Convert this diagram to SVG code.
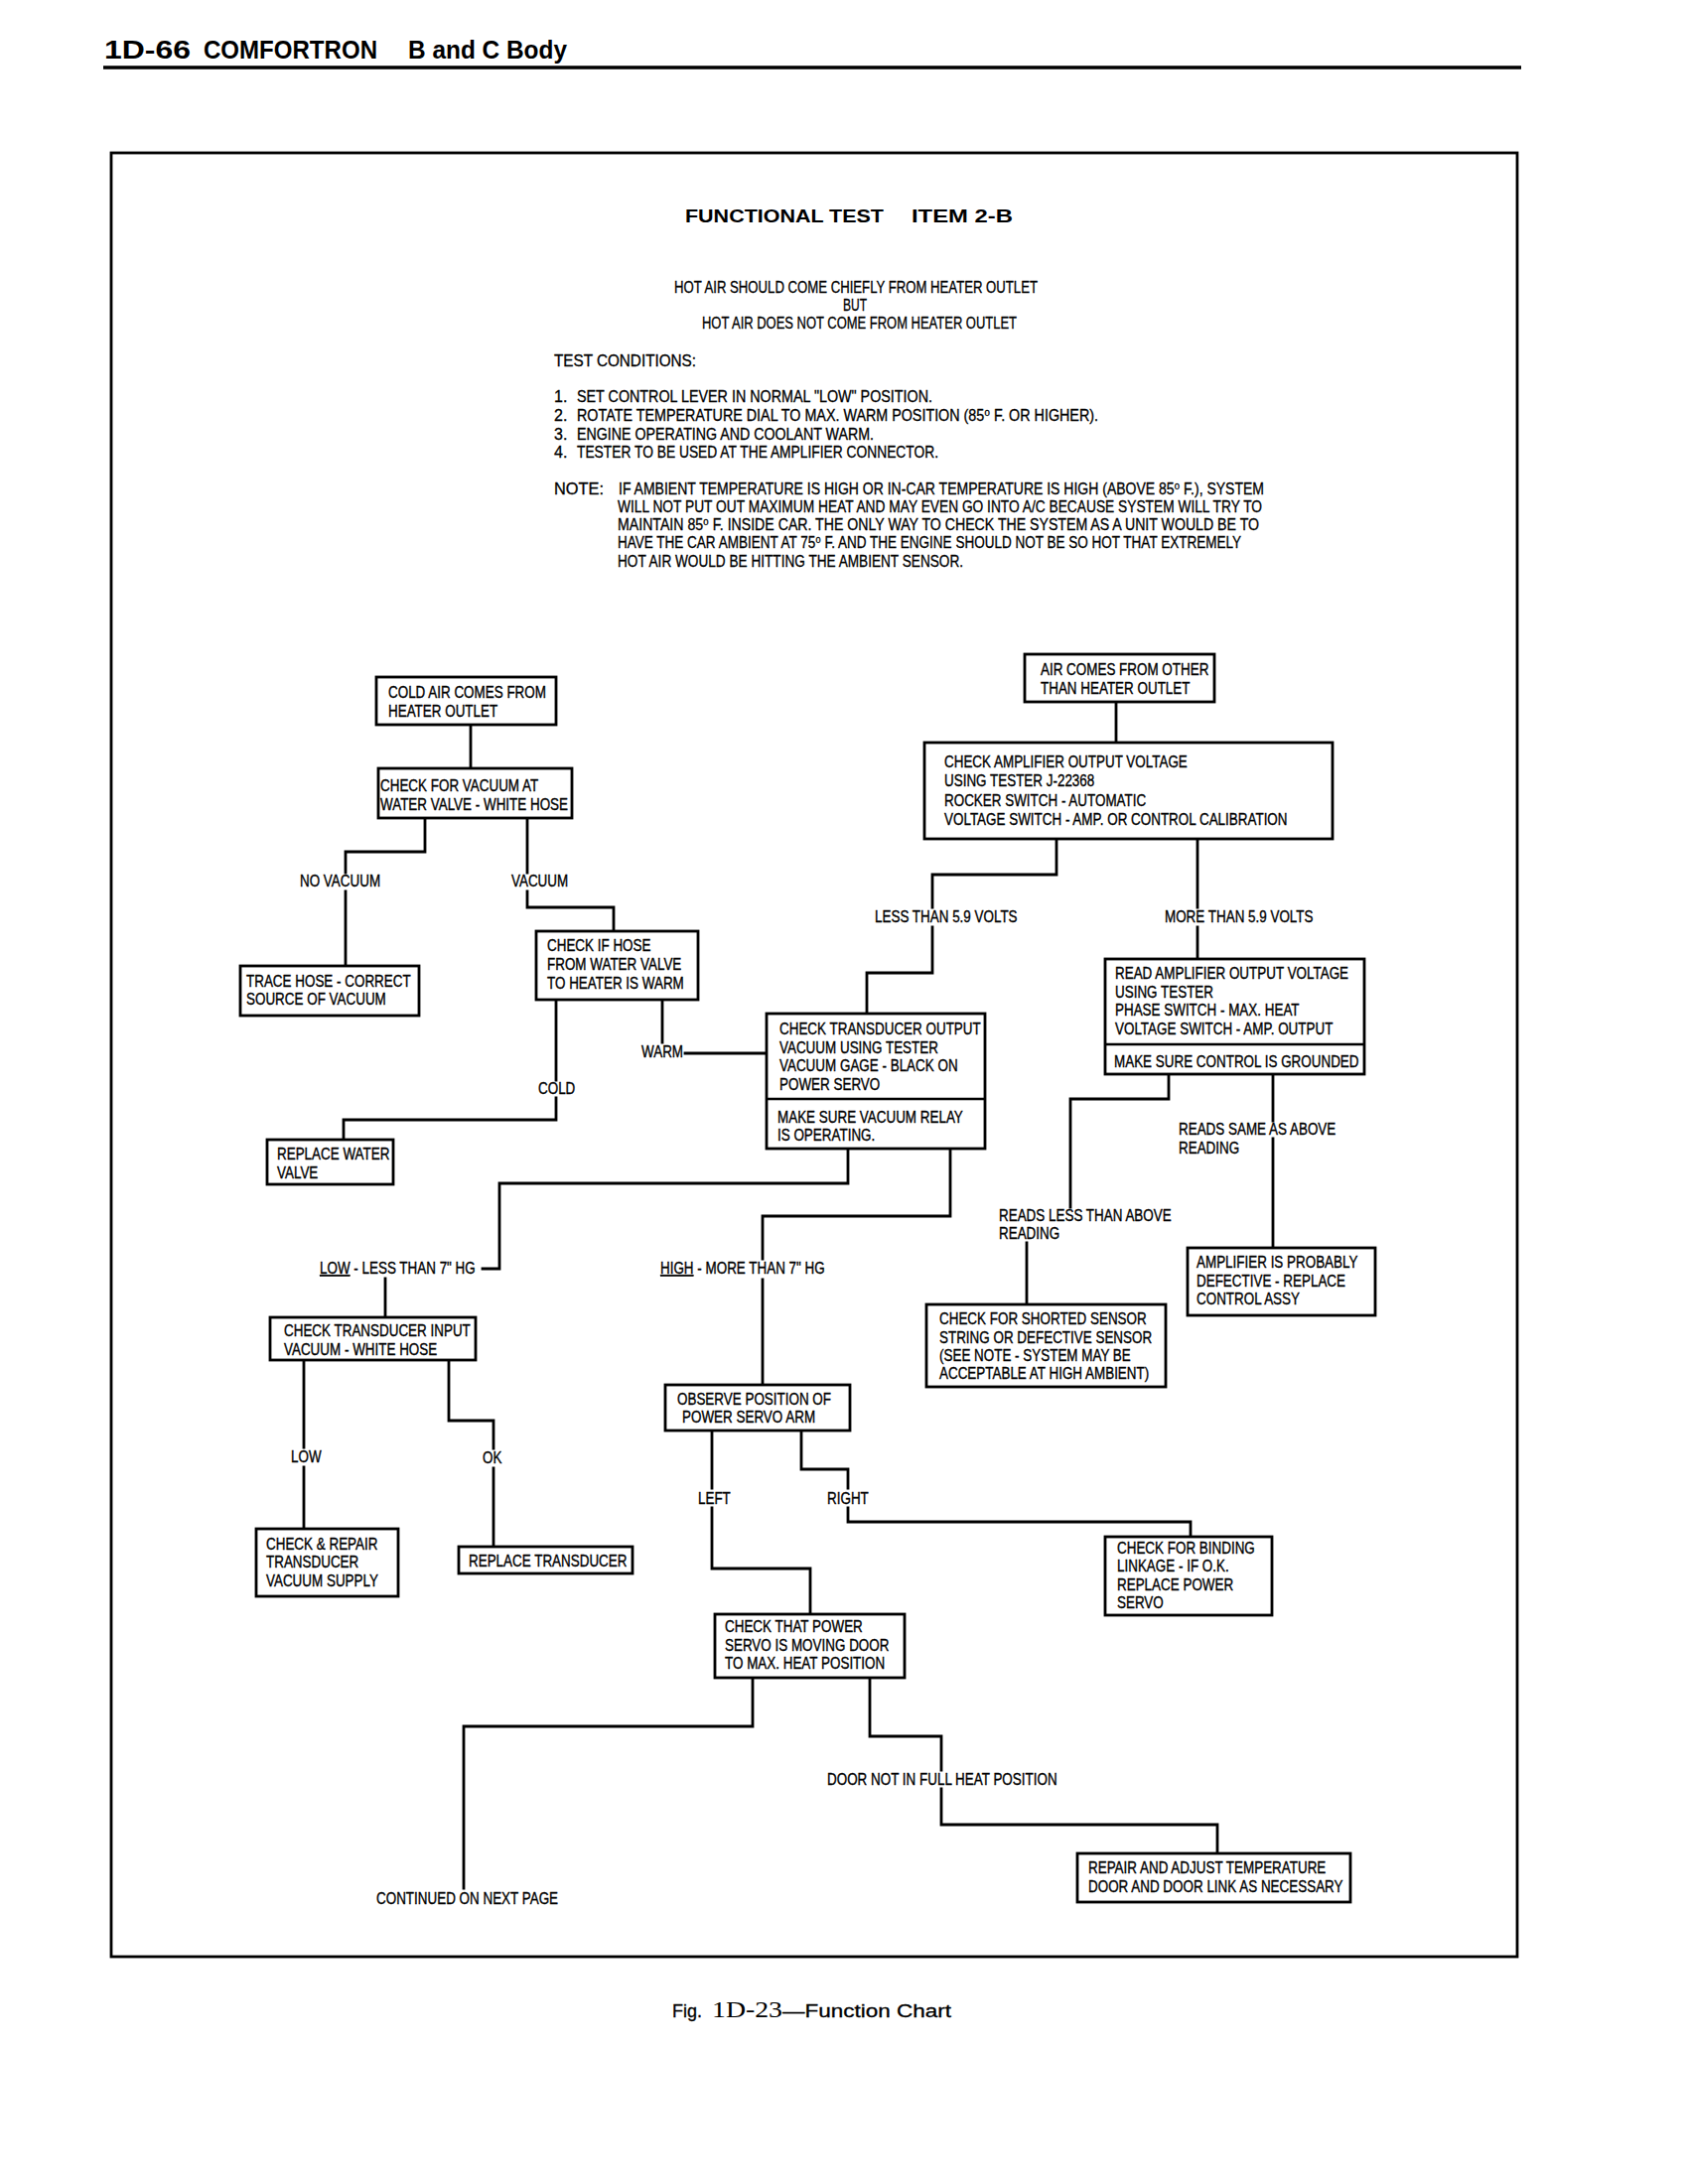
<svg xmlns="http://www.w3.org/2000/svg" width="1700" height="2200" viewBox="0 0 1700 2200">
<style>
.box{fill:#fff;stroke:#000;stroke-width:2.8}
.dv{stroke:#000;stroke-width:2.5}
.con{fill:none;stroke:#000;stroke-width:2.8;stroke-linecap:square}
.f{font-family:"Liberation Sans",Arial,sans-serif;font-size:16px;fill:#000;stroke:#000;stroke-width:0.35;transform-box:fill-box;transform-origin:left center;transform:scaleX(0.84)}
.h{font-family:"Liberation Sans","DejaVu Sans",Arial,sans-serif;font-size:16px;fill:#000;stroke:#000;stroke-width:0.3}
.b{font-family:"Liberation Sans",Arial,sans-serif;font-weight:bold;fill:#000}
.r{font-family:"Liberation Sans",Arial,sans-serif;fill:#000;stroke:#000;stroke-width:0.3}
.s{font-family:"Liberation Serif","Times New Roman",serif;fill:#000}
</style>
<rect width="1700" height="2200" fill="#fff"/>

<g id="page-header">
<text class="b" x="105" y="59" font-size="26" textLength="87" lengthAdjust="spacingAndGlyphs">1D-66</text>
<text class="b" x="205" y="59" font-size="26" textLength="175" lengthAdjust="spacingAndGlyphs">COMFORTRON</text>
<text class="b" x="411" y="59" font-size="26" textLength="160" lengthAdjust="spacingAndGlyphs">B and C Body</text>
<line x1="104" y1="68" x2="1532" y2="68" stroke="#000" stroke-width="3.5"/>
</g>

<rect id="frame" x="112" y="154" width="1416" height="1817" fill="none" stroke="#000" stroke-width="2.8"/>

<g id="intro">
<text class="b" x="690" y="224" font-size="19" textLength="200" lengthAdjust="spacingAndGlyphs">FUNCTIONAL TEST</text>
<text class="b" x="918" y="224" font-size="19" textLength="102" lengthAdjust="spacingAndGlyphs">ITEM 2-B</text>
<text class="h" x="679" y="295" font-size="15.5" textLength="366" lengthAdjust="spacingAndGlyphs">HOT AIR SHOULD COME CHIEFLY FROM HEATER OUTLET</text>
<text class="h" x="849" y="312.5" font-size="15.5" textLength="24" lengthAdjust="spacingAndGlyphs">BUT</text>
<text class="h" x="707" y="330.5" font-size="15.5" textLength="317" lengthAdjust="spacingAndGlyphs">HOT AIR DOES NOT COME FROM HEATER OUTLET</text>
<text class="h" x="558" y="369" textLength="143" lengthAdjust="spacingAndGlyphs">TEST CONDITIONS:</text>
<text class="h" x="558" y="405">1.</text>
<text class="h" x="581" y="405" textLength="358" lengthAdjust="spacingAndGlyphs">SET CONTROL LEVER IN NORMAL "LOW" POSITION.</text>
<text class="h" x="558" y="424">2.</text>
<text class="h" x="581" y="424" textLength="525" lengthAdjust="spacingAndGlyphs">ROTATE TEMPERATURE DIAL TO MAX. WARM POSITION (85⁰ F. OR HIGHER).</text>
<text class="h" x="558" y="443">3.</text>
<text class="h" x="581" y="443" textLength="299" lengthAdjust="spacingAndGlyphs">ENGINE OPERATING AND COOLANT WARM.</text>
<text class="h" x="558" y="461">4.</text>
<text class="h" x="581" y="461" textLength="364" lengthAdjust="spacingAndGlyphs">TESTER TO BE USED AT THE AMPLIFIER CONNECTOR.</text>
<text class="h" x="558" y="498" textLength="50" lengthAdjust="spacingAndGlyphs">NOTE:</text>
<text class="h" x="623" y="498" textLength="650" lengthAdjust="spacingAndGlyphs">IF AMBIENT TEMPERATURE IS HIGH OR IN-CAR TEMPERATURE IS HIGH (ABOVE 85⁰ F.),  SYSTEM</text>
<text class="h" x="622" y="516" textLength="649" lengthAdjust="spacingAndGlyphs">WILL NOT PUT OUT MAXIMUM HEAT AND MAY EVEN GO INTO A/C BECAUSE SYSTEM WILL TRY TO</text>
<text class="h" x="622" y="534" textLength="646" lengthAdjust="spacingAndGlyphs">MAINTAIN 85⁰ F. INSIDE CAR.  THE ONLY WAY TO CHECK THE SYSTEM AS A UNIT WOULD BE TO</text>
<text class="h" x="622" y="552" textLength="628" lengthAdjust="spacingAndGlyphs">HAVE THE CAR AMBIENT AT 75⁰ F. AND THE ENGINE SHOULD NOT BE SO HOT THAT EXTREMELY</text>
<text class="h" x="622" y="571" textLength="348" lengthAdjust="spacingAndGlyphs">HOT AIR WOULD BE HITTING THE AMBIENT SENSOR.</text>
</g>

<g id="connectors">
<path class="con" d="M474 730 V774"/>
<path class="con" d="M428 824 V858 H348 V879 M348 898 V973"/>
<path class="con" d="M531 824 V879 M531 898 V914 H618 V938"/>
<path class="con" d="M560 1007 V1088 M560 1106 V1128 H346 V1148"/>
<path class="con" d="M667 1007 V1050 M690 1061 H772"/>
<path class="con" d="M1064 845 V881 H939 V914 M939 934 V980 H873 V1021"/>
<path class="con" d="M1206 845 V914 M1206 934 V966"/>
<path class="con" d="M1124 707 V748"/>
<path class="con" d="M1177 1082 V1107 H1078 V1216 M1034 1252 V1314"/>
<path class="con" d="M1282 1082 V1129 M1282 1147 V1257"/>
<path class="con" d="M854 1157 V1192 H503 V1278 H486 M388 1288 V1327"/>
<path class="con" d="M957 1157 V1225 H768 V1268 M768 1289 V1395"/>
<path class="con" d="M306 1370 V1458 M306 1478 V1540"/>
<path class="con" d="M452 1370 V1431 H497 V1459 M497 1479 V1558"/>
<path class="con" d="M717 1441 V1499 M717 1519 V1580 H816 V1626"/>
<path class="con" d="M807 1441 V1480 H854 V1499 M854 1519 V1533 H1199 V1548"/>
<path class="con" d="M758 1690 V1739 H467 V1902"/>
<path class="con" d="M876 1690 V1749 H948 V1783 M948 1802 V1838 H1226 V1867"/>
<text class="f" x="302" y="893">NO VACUUM</text>
<text class="f" x="515" y="893">VACUUM</text>
<text class="f" x="542" y="1102">COLD</text>
<text class="f" x="646" y="1065">WARM</text>
<text class="f" x="881" y="929">LESS THAN 5.9 VOLTS</text>
<text class="f" x="1173" y="929">MORE THAN 5.9 VOLTS</text>
<text class="f" x="1006" y="1230">READS LESS THAN ABOVE</text>
<text class="f" x="1006" y="1248">READING</text>
<text class="f" x="1187" y="1143">READS SAME AS ABOVE</text>
<text class="f" x="1187" y="1162">READING</text>
<text class="f" x="322" y="1283"><tspan text-decoration="underline">LOW</tspan> - LESS THAN 7" HG</text>
<text class="f" x="665" y="1283"><tspan text-decoration="underline">HIGH</tspan> - MORE THAN 7" HG</text>
<text class="f" x="293" y="1473">LOW</text>
<text class="f" x="486" y="1474">OK</text>
<text class="f" x="703" y="1515">LEFT</text>
<text class="f" x="833" y="1515">RIGHT</text>
<text class="f" x="379" y="1918">CONTINUED ON NEXT PAGE</text>
<text class="f" x="833" y="1798">DOOR NOT IN FULL HEAT POSITION</text>
</g>

<g id="n-cold-air">
<rect class="box" x="379" y="682" width="181" height="48"/>
<text class="f" x="391" y="703">COLD AIR COMES FROM</text>
<text class="f" x="391" y="722">HEATER OUTLET</text>
</g>
<g id="n-check-vacuum">
<rect class="box" x="381" y="774" width="195" height="50"/>
<text class="f" x="383" y="797">CHECK FOR VACUUM AT</text>
<text class="f" x="383" y="816">WATER VALVE - WHITE HOSE</text>
</g>
<g id="n-trace-hose">
<rect class="box" x="242" y="973" width="180" height="50"/>
<text class="f" x="248" y="994">TRACE HOSE - CORRECT</text>
<text class="f" x="248" y="1012">SOURCE OF VACUUM</text>
</g>
<g id="n-check-hose">
<rect class="box" x="540" y="938" width="163" height="69"/>
<text class="f" x="551" y="958">CHECK IF HOSE</text>
<text class="f" x="551" y="977">FROM WATER VALVE</text>
<text class="f" x="551" y="996">TO HEATER IS WARM</text>
</g>
<g id="n-replace-water-valve">
<rect class="box" x="269" y="1148" width="127" height="45"/>
<text class="f" x="279" y="1168">REPLACE WATER</text>
<text class="f" x="279" y="1187">VALVE</text>
</g>
<g id="n-air-other">
<rect class="box" x="1032" y="659" width="191" height="48"/>
<text class="f" x="1048" y="680">AIR COMES FROM OTHER</text>
<text class="f" x="1048" y="699">THAN HEATER OUTLET</text>
</g>
<g id="n-check-amp">
<rect class="box" x="931" y="748" width="411" height="97"/>
<text class="f" x="951" y="773">CHECK AMPLIFIER OUTPUT VOLTAGE</text>
<text class="f" x="951" y="792">USING TESTER J-22368</text>
<text class="f" x="951" y="812">ROCKER SWITCH - AUTOMATIC</text>
<text class="f" x="951" y="831">VOLTAGE SWITCH - AMP. OR CONTROL CALIBRATION</text>
</g>
<g id="n-transducer-output">
<rect class="box" x="772" y="1021" width="220" height="136"/>
<line class="dv" x1="772" y1="1107" x2="992" y2="1107"/>
<text class="f" x="785" y="1042">CHECK TRANSDUCER OUTPUT</text>
<text class="f" x="785" y="1061">VACUUM USING TESTER</text>
<text class="f" x="785" y="1079">VACUUM GAGE - BLACK ON</text>
<text class="f" x="785" y="1098">POWER SERVO</text>
<text class="f" x="783" y="1131">MAKE SURE VACUUM RELAY</text>
<text class="f" x="783" y="1149">IS OPERATING.</text>
</g>
<g id="n-read-amp">
<rect class="box" x="1113" y="966" width="261" height="116"/>
<line class="dv" x1="1113" y1="1052" x2="1374" y2="1052"/>
<text class="f" x="1123" y="986">READ AMPLIFIER OUTPUT VOLTAGE</text>
<text class="f" x="1123" y="1005">USING TESTER</text>
<text class="f" x="1123" y="1023">PHASE SWITCH - MAX. HEAT</text>
<text class="f" x="1123" y="1042">VOLTAGE SWITCH - AMP. OUTPUT</text>
<text class="f" x="1122" y="1075">MAKE SURE CONTROL IS GROUNDED</text>
</g>
<g id="n-amplifier-defective">
<rect class="box" x="1196" y="1257" width="189" height="68"/>
<text class="f" x="1205" y="1277">AMPLIFIER IS PROBABLY</text>
<text class="f" x="1205" y="1296">DEFECTIVE - REPLACE</text>
<text class="f" x="1205" y="1314">CONTROL ASSY</text>
</g>
<g id="n-shorted-sensor">
<rect class="box" x="933" y="1314" width="241" height="83"/>
<text class="f" x="946" y="1334">CHECK FOR SHORTED SENSOR</text>
<text class="f" x="946" y="1353">STRING OR DEFECTIVE SENSOR</text>
<text class="f" x="946" y="1371">(SEE NOTE - SYSTEM MAY BE</text>
<text class="f" x="946" y="1389">ACCEPTABLE AT HIGH AMBIENT)</text>
</g>
<g id="n-transducer-input">
<rect class="box" x="272" y="1327" width="207" height="43"/>
<text class="f" x="286" y="1346">CHECK TRANSDUCER INPUT</text>
<text class="f" x="286" y="1365">VACUUM - WHITE HOSE</text>
</g>
<g id="n-repair-supply">
<rect class="box" x="258" y="1540" width="143" height="68"/>
<text class="f" x="268" y="1561">CHECK &amp; REPAIR</text>
<text class="f" x="268" y="1579">TRANSDUCER</text>
<text class="f" x="268" y="1598">VACUUM SUPPLY</text>
</g>
<g id="n-replace-transducer">
<rect class="box" x="462" y="1558" width="175" height="27"/>
<text class="f" x="472" y="1578">REPLACE TRANSDUCER</text>
</g>
<g id="n-observe">
<rect class="box" x="670" y="1395" width="186" height="46"/>
<text class="f" x="682" y="1415">OBSERVE POSITION OF</text>
<text class="f" x="687" y="1433">POWER SERVO ARM</text>
</g>
<g id="n-binding">
<rect class="box" x="1113" y="1548" width="168" height="79"/>
<text class="f" x="1125" y="1565">CHECK FOR BINDING</text>
<text class="f" x="1125" y="1583">LINKAGE - IF O.K.</text>
<text class="f" x="1125" y="1602">REPLACE POWER</text>
<text class="f" x="1125" y="1620">SERVO</text>
</g>
<g id="n-servo-moving">
<rect class="box" x="720" y="1626" width="191" height="64"/>
<text class="f" x="730" y="1644">CHECK THAT POWER</text>
<text class="f" x="730" y="1663">SERVO IS MOVING DOOR</text>
<text class="f" x="730" y="1681">TO MAX. HEAT POSITION</text>
</g>
<g id="n-repair-door">
<rect class="box" x="1085" y="1867" width="275" height="49"/>
<text class="f" x="1096" y="1887">REPAIR AND ADJUST TEMPERATURE</text>
<text class="f" x="1096" y="1906">DOOR AND DOOR LINK AS NECESSARY</text>
</g>

<g id="caption">
<text class="r" x="677" y="2032" font-size="19" textLength="30" lengthAdjust="spacingAndGlyphs">Fig.</text>
<text class="s" x="717" y="2032" font-size="23" textLength="71" lengthAdjust="spacingAndGlyphs">1D-23</text>
<text class="r" x="788" y="2032" font-size="19" textLength="170" lengthAdjust="spacingAndGlyphs">—Function Chart</text>
</g>
</svg>
